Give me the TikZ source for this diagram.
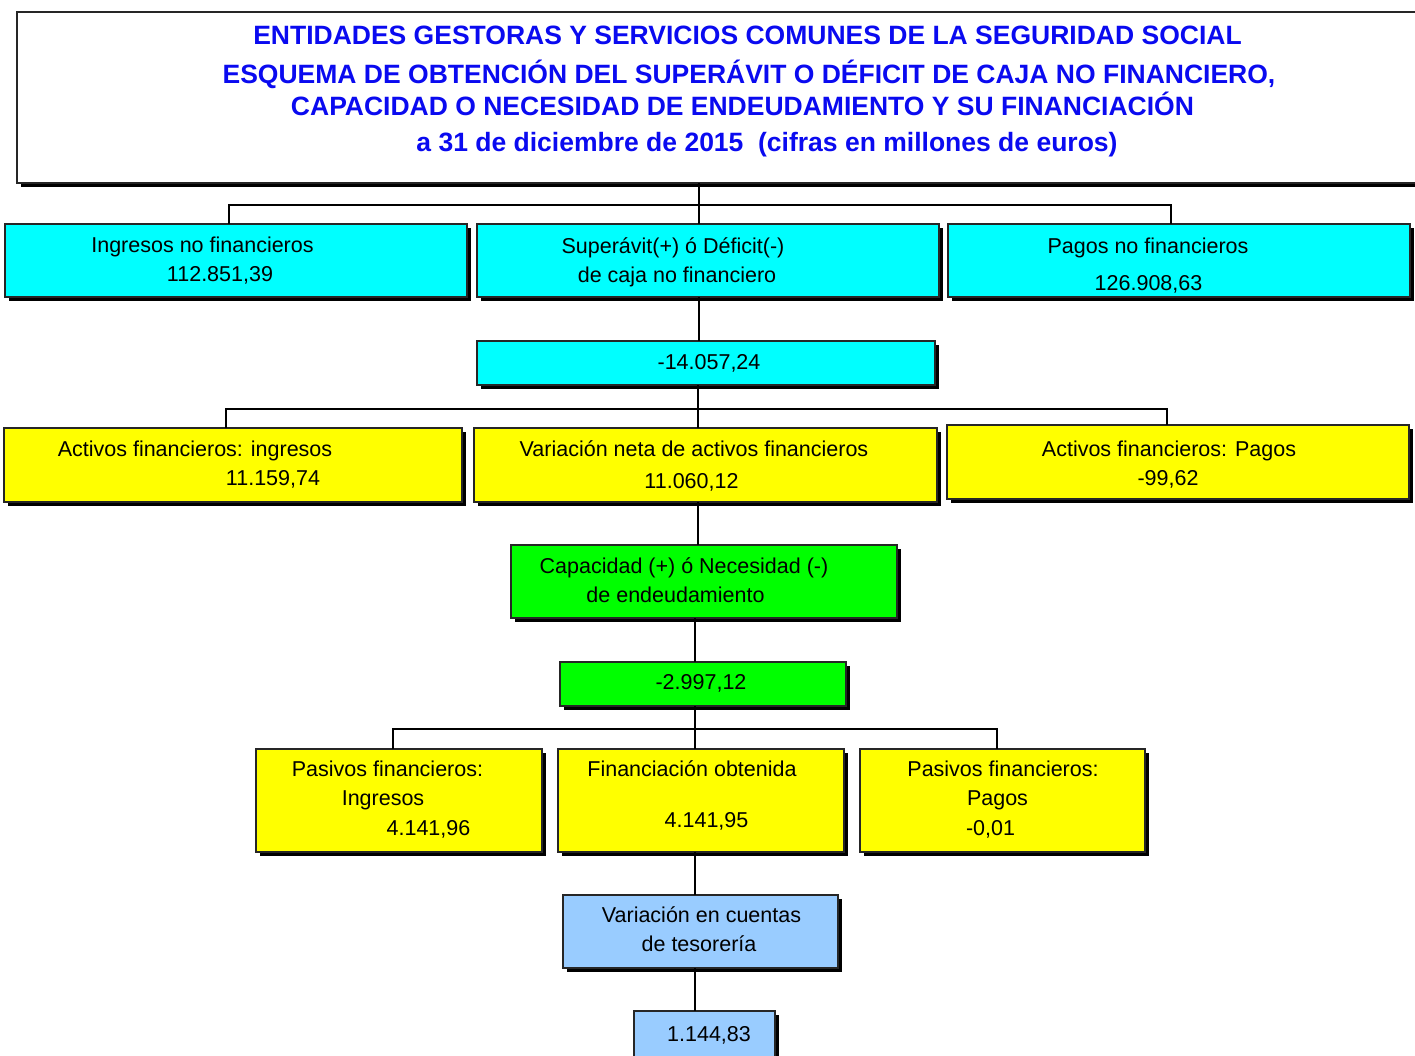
\documentclass[tikz,border=0pt]{standalone}
\usepackage{fontspec}
\setmainfont{Liberation Sans}
\usetikzlibrary{shadows}
\definecolor{titleblue}{RGB}{10,10,240}
\definecolor{boxcyan}{RGB}{0,255,255}
\definecolor{boxyellow}{RGB}{255,255,0}
\definecolor{boxgreen}{RGB}{0,255,0}
\definecolor{boxblue}{RGB}{153,204,255}
\begin{document}
\begin{tikzpicture}[x=1pt,y=-1pt,
  box/.style={draw=black!85,line width=1.1pt,inner sep=0pt,outer sep=0pt,anchor=north west,
    drop shadow={shadow xshift=4pt,shadow yshift=-4pt,fill=black,opacity=1}},
  conn/.style={draw=black,line width=1.2pt},
  ttl/.style={anchor=base,inner sep=0pt,text=titleblue,font=\fontsize{26.5}{30}\selectfont\bfseries},
  txt/.style={anchor=base,inner sep=0pt,font=\fontsize{21.5}{26}\selectfont}]
\useasboundingbox (0,0) rectangle (1415,1055);
\fill[white] (0,0) rectangle (1415,1055);
% title box
\node[box,fill=white,minimum width=1420pt,minimum height=171pt,
  drop shadow={shadow xshift=4pt,shadow yshift=-3pt,fill=black,opacity=1}] (title) at (17,12) {};
\node[ttl] (t1a) at (747.5,44.3) {ENTIDADES GESTORAS Y SERVICIOS COMUNES DE LA SEGURIDAD SOCIAL};
\node[ttl] (t1b) at (749,83.3) {ESQUEMA DE OBTENCIÓN DEL SUPERÁVIT O DÉFICIT DE CAJA NO FINANCIERO,};
\node[ttl] (t1c) at (742.5,115) {CAPACIDAD O NECESIDAD DE ENDEUDAMIENTO Y SU FINANCIACIÓN};
\node[ttl] (t1d) at (767,151.7) {a 31 de diciembre de 2015\ \ (cifras en millones de euros)};
% row 1
\node[box,fill=boxcyan,minimum width=462pt,minimum height=73pt] (A) at (5,224) {};
\node[box,fill=boxcyan,minimum width=462pt,minimum height=73pt] (B) at (477,224) {};
\node[box,fill=boxcyan,minimum width=462pt,minimum height=73pt] (C) at (948,224) {};
\node[box,fill=boxcyan,minimum width=458pt,minimum height=44pt] (D) at (477,341) {};
% row 2
\node[box,fill=boxyellow,minimum width=458pt,minimum height=74pt] (E) at (4,428) {};
\node[box,fill=boxyellow,minimum width=463pt,minimum height=74pt] (F) at (474,428) {};
\node[box,fill=boxyellow,minimum width=462pt,minimum height=74pt] (G) at (947,425) {};
\node[box,fill=boxgreen,minimum width=386pt,minimum height=73pt] (H) at (511,545) {};
\node[box,fill=boxgreen,minimum width=286pt,minimum height=44pt] (I) at (560,662) {};
% row 3
\node[box,fill=boxyellow,minimum width=286pt,minimum height=103pt] (J) at (256,749) {};
\node[box,fill=boxyellow,minimum width=286pt,minimum height=103pt] (K) at (558,749) {};
\node[box,fill=boxyellow,minimum width=285pt,minimum height=103pt] (L) at (860,749) {};
\node[box,fill=boxblue,minimum width=275pt,minimum height=73pt] (M) at (563,895) {};
\node[box,fill=boxblue,minimum width=141pt,minimum height=70pt] (N) at (634,1011) {};
% connectors
\coordinate (x1) at (699,205);
\coordinate (b1L) at (229,205);
\coordinate (b1R) at (1171,205);
\draw[conn] (title.south -| x1) -- (B.north -| x1);
\draw[conn] (A.north -| b1L) -- (b1L) -- (b1R) -- (C.north -| b1R);
\draw[conn] (B.south -| x1) -- (D.north -| x1);
\coordinate (x2) at (698,409);
\coordinate (b2L) at (226,409);
\coordinate (b2R) at (1167,409);
\draw[conn] (D.south -| x2) -- (F.north -| x2);
\draw[conn] (E.north -| b2L) -- (b2L) -- (b2R) -- (G.north -| b2R);
\draw[conn] (F.south -| x2) -- (H.north -| x2);
\coordinate (x4) at (695,729);
\coordinate (b3L) at (393,729);
\coordinate (b3R) at (997,729);
\draw[conn] (H.south -| x4) -- (I.north -| x4);
\draw[conn] (I.south -| x4) -- (K.north -| x4);
\draw[conn] (J.north -| b3L) -- (b3L) -- (b3R) -- (L.north -| b3R);
\draw[conn] (K.south -| x4) -- (M.north -| x4);
\draw[conn] (M.south -| x4) -- (N.north -| x4);
% texts
\node[txt] (a1) at (202.5,252.7) {Ingresos no financieros};
\node[txt] (a2) at (220,281.7) {112.851,39};
\node[txt] (bt1) at (673,253) {Superávit(+) ó Déficit(-)};
\node[txt] (bt2) at (677,282) {de caja no financiero};
\node[txt] (c1) at (1148,253.3) {Pagos no financieros};
\node[txt] (c2) at (1148.5,290) {126.908,63};
\node[txt] (d1) at (709,369.3) {-14.057,24};
\node[txt] (e1) at (195,456.7) {Activos financieros: ingresos};
\node[txt] (e2) at (273,485.7) {11.159,74};
\node[txt] (f1) at (694,456.7) {Variación neta de activos financieros};
\node[txt] (f2) at (691.5,488.3) {11.060,12};
\node[txt] (g1) at (1169,456.7) {Activos financieros: Pagos};
\node[txt] (g2) at (1168,485) {-99,62};
\node[txt] (h1) at (684,573.3) {Capacidad (+) ó Necesidad (-)};
\node[txt] (h2) at (675.5,602.7) {de endeudamiento};
\node[txt] (i1) at (701,689.3) {-2.997,12};
\node[txt] (j1) at (387.5,776.7) {Pasivos financieros:};
\node[txt] (j2) at (383,805) {Ingresos};
\node[txt] (j3) at (428.5,835) {4.141,96};
\node[txt] (k1) at (692,776.7) {Financiación obtenida};
\node[txt] (k2) at (706.5,827.3) {4.141,95};
\node[txt] (l1) at (1003,776.7) {Pasivos financieros:};
\node[txt] (l2) at (997.5,805) {Pagos};
\node[txt] (l3) at (990.5,835) {-0,01};
\node[txt] (m1) at (701.5,922.7) {Variación en cuentas};
\node[txt] (m2) at (699,951) {de tesorería};
\node[txt] (n1) at (709,1041) {1.144,83};
\end{tikzpicture}
\end{document}
